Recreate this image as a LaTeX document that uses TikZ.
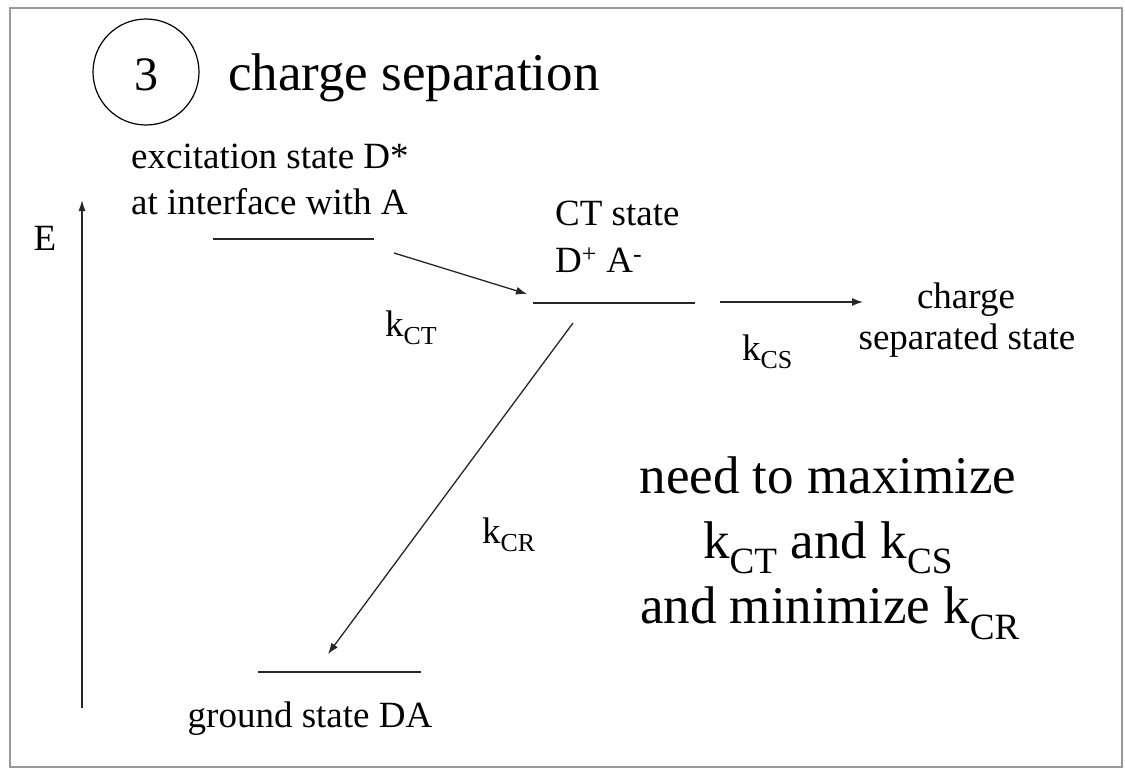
\documentclass[tikz,border=0pt]{standalone}
\usepackage{fontspec}
\setmainfont{Liberation Serif}
\usetikzlibrary{arrows.meta}
\tikzset{
  lvl/.style={line width=1.5pt, draw=black!85},
  rate/.style={line width=1.3pt, draw=black!85, -{Latex[length=11pt,width=8pt]}},
  small/.style={font=\fontsize{37}{42}\selectfont, inner sep=0pt},
  big/.style={font=\fontsize{53}{60}\selectfont, inner sep=0pt},
}
\begin{document}
\begin{tikzpicture}[x=1pt,y=-1pt]
\useasboundingbox (0,0) rectangle (1125,771);
\fill[white] (0,0) rectangle (1125,771);
\draw[line width=2.5pt, draw=black!40] (10,8) rectangle (1122,767);
% title
\node[draw, circle, line width=1.2pt, minimum size=106pt, inner sep=0pt] (circ) at (146,72) {};
\node[inner sep=0pt, font=\fontsize{48}{50}\selectfont, anchor=base] (num) at (146,90) {3};
\node[big, anchor=base west] (title) at (228,90) {charge separation};
% energy axis
\coordinate (Ebot) at (82,708);
\coordinate (Etop) at (82,200);
\draw[line width=1.3pt, draw=black!85, -{Latex[length=11pt,width=7pt]}] (Ebot) -- (Etop);
\node[small, anchor=base] (E) at (45,250) {E};
% levels
\coordinate (x1) at (213,239); \coordinate (x2) at (374,239);
\coordinate (c1) at (533,303); \coordinate (c2) at (695,303);
\coordinate (g1) at (258,672); \coordinate (g2) at (421,672);
\draw[lvl] (x1) -- (x2);
\draw[lvl] (c1) -- (c2);
\draw[lvl] (g1) -- (g2);
% state labels
\node[small, anchor=base west] (exc1) at (131,168) {excitation state D*};
\node[small, anchor=base west] (exc2) at (131,214) {at interface with A};
\node[small, anchor=base west] (ct1) at (555,225) {CT state};
\node[small, anchor=base west] (ct2) at (555,272) {D\textsuperscript{+} A\textsuperscript{-}};
\node[small, anchor=base] (cs1) at (966,308) {charge};
\node[small, anchor=base] (cs2) at (967,349) {separated state};
\node[small, anchor=base] (gs) at (310,727) {ground state DA};
% rate arrows
\coordinate (aCTs) at (394,253); \coordinate (aCTe) at (527,294);
\coordinate (aCSs) at (720,302); \coordinate (aCSe) at (863,302);
\coordinate (aCRs) at (573,323); \coordinate (aCRe) at (328,654);
\draw[rate] (aCTs) -- (aCTe);
\draw[rate] (aCSs) -- (aCSe);
\draw[rate] (aCRs) -- (aCRe);
\node[small, anchor=base west] (kct) at (385,336) {k\textsubscript{CT}};
\node[small, anchor=base west] (kcs) at (742,360) {k\textsubscript{CS}};
\node[small, anchor=base west] (kcr) at (482,543) {k\textsubscript{CR}};
% conclusion
\node[big, anchor=base] (n1) at (828,493) {need to maximize};
\node[big, anchor=base] (n2) at (828,558) {k\textsubscript{CT} and k\textsubscript{CS}};
\node[big, anchor=base] (n3) at (830,623) {and minimize k\textsubscript{CR}};
\end{tikzpicture}
\end{document}
